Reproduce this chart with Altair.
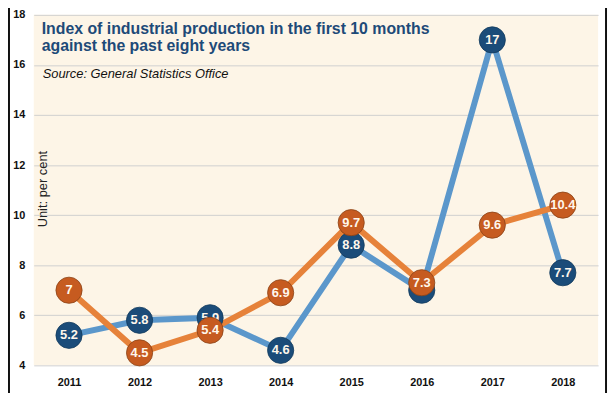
import altair as alt
import pandas as pd

years = ["2011", "2012", "2013", "2014", "2015", "2016", "2017", "2018"]
blue_values = [5.2, 5.8, 5.9, 4.6, 8.8, 7, 17, 7.7]
orange_values = [7, 4.5, 5.4, 6.9, 9.7, 7.3, 9.6, 10.4]
y_ticks = [4, 6, 8, 10, 12, 14, 16, 18]

title_line1 = "Index of industrial production in the first 10 months"
title_line2 = "against the past eight years"
source_text = "Source: General Statistics Office"
unit_text = "Unit: per cent"

FONT = "Liberation Sans"
BLUE_LINE = "#5b97cb"
BLUE_DOT = "#1b4c79"
ORANGE_LINE = "#e6823a"
ORANGE_DOT = "#c65b20"

blue = pd.DataFrame({"year": years, "value": blue_values,
                     "label": [f"{v:g}" for v in blue_values]})
orange = pd.DataFrame({"year": years, "value": orange_values,
                       "label": [f"{v:g}" for v in orange_values]})

x_enc = alt.X("year:O", title=None,
              scale=alt.Scale(type="point", padding=0.5),
              axis=alt.Axis(labelAngle=0, domain=False, ticks=False, grid=False,
                            labelFont=FONT, labelFontWeight="bold", labelFontSize=11,
                            labelColor="#111", labelPadding=11))
y_enc = alt.Y("value:Q", title=None,
              scale=alt.Scale(domain=[4, 18], nice=False, zero=False),
              axis=alt.Axis(values=y_ticks, domain=False, ticks=False,
                            gridColor="#cfcfcf", gridWidth=1,
                            labelFont=FONT, labelFontWeight="bold", labelFontSize=11,
                            labelColor="#111", labelPadding=9))

def series_layers(df, line_color, dot_color, stroke_color):
    base = alt.Chart(df).encode(x=x_enc, y=y_enc)
    line = base.mark_line(color=line_color, strokeWidth=6)
    dots = base.mark_circle(size=700, color=dot_color, opacity=1,
                            stroke=stroke_color, strokeWidth=0.8)
    txt = base.mark_text(font=FONT, fontWeight="bold", fontSize=13,
                         color="#fff7ec", baseline="middle").encode(text="label:N")
    return line, dots, txt

b_line, b_dots, b_txt = series_layers(blue, BLUE_LINE, BLUE_DOT, "#123a5c")
o_line, o_dots, o_txt = series_layers(orange, ORANGE_LINE, ORANGE_DOT, "#8a4216")

def free_text(t, x, y, **kw):
    return alt.Chart(pd.DataFrame({"t": [t]})).mark_text(font=FONT, **kw).encode(
        x=alt.value(x), y=alt.value(y), text="t:N")

title1 = free_text(title_line1, 8, 19, fontWeight="bold", fontSize=16, color="#1d4a78",
                   align="left", baseline="alphabetic")
title2 = free_text(title_line2, 8, 37, fontWeight="bold", fontSize=16, color="#1d4a78",
                   align="left", baseline="alphabetic")
source = free_text(source_text, 9, 64, fontStyle="italic", fontSize=13, color="#111",
                   align="left", baseline="alphabetic")
unit = free_text(unit_text, 9, 176, fontSize=13, color="#222", angle=270,
                 align="center", baseline="middle")

frame_l = alt.Chart(pd.DataFrame({"a": [0]})).mark_rule(color="#111", strokeWidth=2).encode(
    x=alt.value(-25), y=alt.value(-13), y2=alt.value(390))
frame_r = alt.Chart(pd.DataFrame({"a": [0]})).mark_rule(color="#111", strokeWidth=2).encode(
    x=alt.value(578), y=alt.value(-13), y2=alt.value(390))

chart = alt.layer(
    b_line, o_line, b_dots, b_txt, o_dots, o_txt,
    title1, title2, source, unit, frame_l, frame_r
).properties(
    width=570, height=354,
    autosize=alt.AutoSizeParams(type="none"),
    padding={"left": 26, "top": 5, "right": 10, "bottom": 26},
    background="white",
).configure_view(fill="#fdf5e7", stroke=None)

chart.save("out.html", embed_options={"renderer": "svg", "actions": False})
